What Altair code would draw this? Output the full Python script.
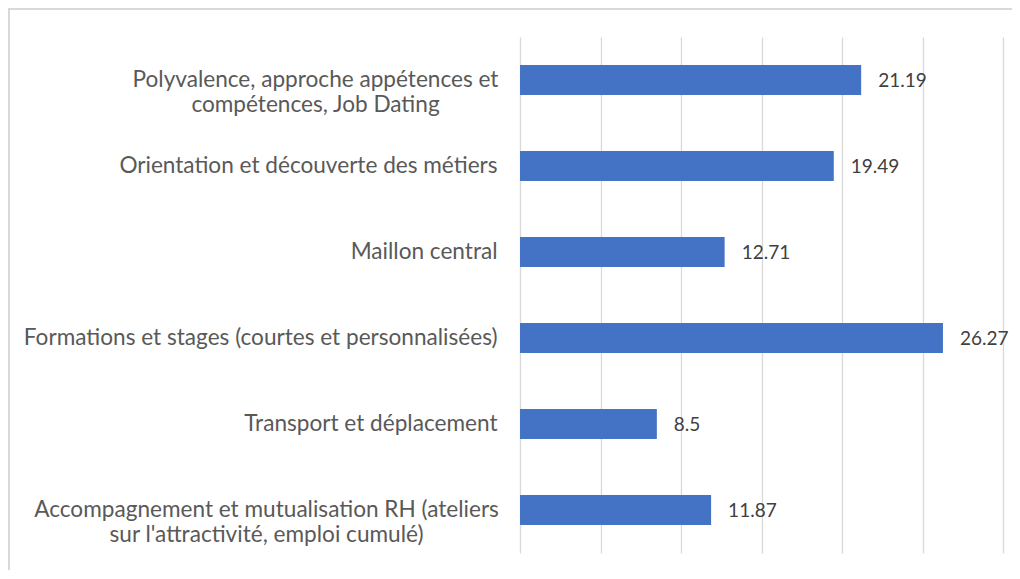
import altair as alt
import pandas as pd

categories = [
    "Polyvalence, approche appétences et\ncompétences, Job Dating",
    "Orientation et découverte des métiers",
    "Maillon central",
    "Formations et stages (courtes et personnalisées)",
    "Transport et déplacement",
    "Accompagnement et mutualisation RH (ateliers\nsur l'attractivité, emploi cumulé)",
]
values = [21.19, 19.49, 12.71, 26.27, 8.5, 11.87]
grid_ticks = [0, 5, 10, 15, 20, 25, 30]

df = pd.DataFrame({
    "cat": categories,
    "value": values,
    "label": [f"{v:g}" for v in values],
})

FONT = "Lato"
FS = 22.6
W, H = 483, 516

y_enc = alt.Y(
    "cat:N",
    sort=categories,
    title=None,
    scale=alt.Scale(paddingInner=0.65, paddingOuter=0.325),
    axis=alt.Axis(
        domain=False,
        ticks=False,
        grid=False,
        labelFont=FONT,
        labelFontSize=FS,
        labelColor="#595959",
        labelLimit=600,
        labelLineHeight=25,
        labelExpr="split(datum.value, '\\n')",
        labelAlign={
            "condition": {"test": "indexof(datum.value, '\\n') >= 0", "value": "center"},
            "value": "right",
        },
        labelPadding={
            "condition": [
                {"test": "indexof(datum.value, 'Polyvalence') >= 0", "value": 205},
                {"test": "indexof(datum.value, 'Accompagnement') >= 0", "value": 254},
            ],
            "value": 23,
        },
    ),
)

x_enc = alt.X(
    "value:Q",
    title=None,
    scale=alt.Scale(domain=[0, 30], nice=False),
    axis=alt.Axis(
        values=grid_ticks,
        labels=False,
        ticks=False,
        domain=False,
        grid=True,
        gridColor="#D9D9D9",
        gridWidth=1.3,
    ),
)

bars = alt.Chart(df).mark_bar(color="#4472C4").encode(y=y_enc, x=x_enc)

texts = alt.Chart(df).mark_text(
    align="left", baseline="middle", dx=17, dy=1,
    font=FONT, fontSize=19, color="#404040",
).encode(y=alt.Y("cat:N", sort=categories), x=alt.X("value:Q"), text="label:N")

frame = alt.Chart(df).mark_rect(
    fill=None, stroke="#D9D9D9", strokeWidth=1.5
).encode(
    x=alt.value(-511), x2=alt.value(W + 60),
    y=alt.value(-28), y2=alt.value(H + 60),
)

chart = alt.layer(frame, bars, texts).properties(
    width=W, height=H,
    autosize=alt.AutoSizeParams(type="none"),
    padding={"left": 512, "top": 29, "right": 9, "bottom": 17},
).configure_view(stroke=None)

chart.save("out.html", embed_options={"renderer": "svg", "actions": False})
